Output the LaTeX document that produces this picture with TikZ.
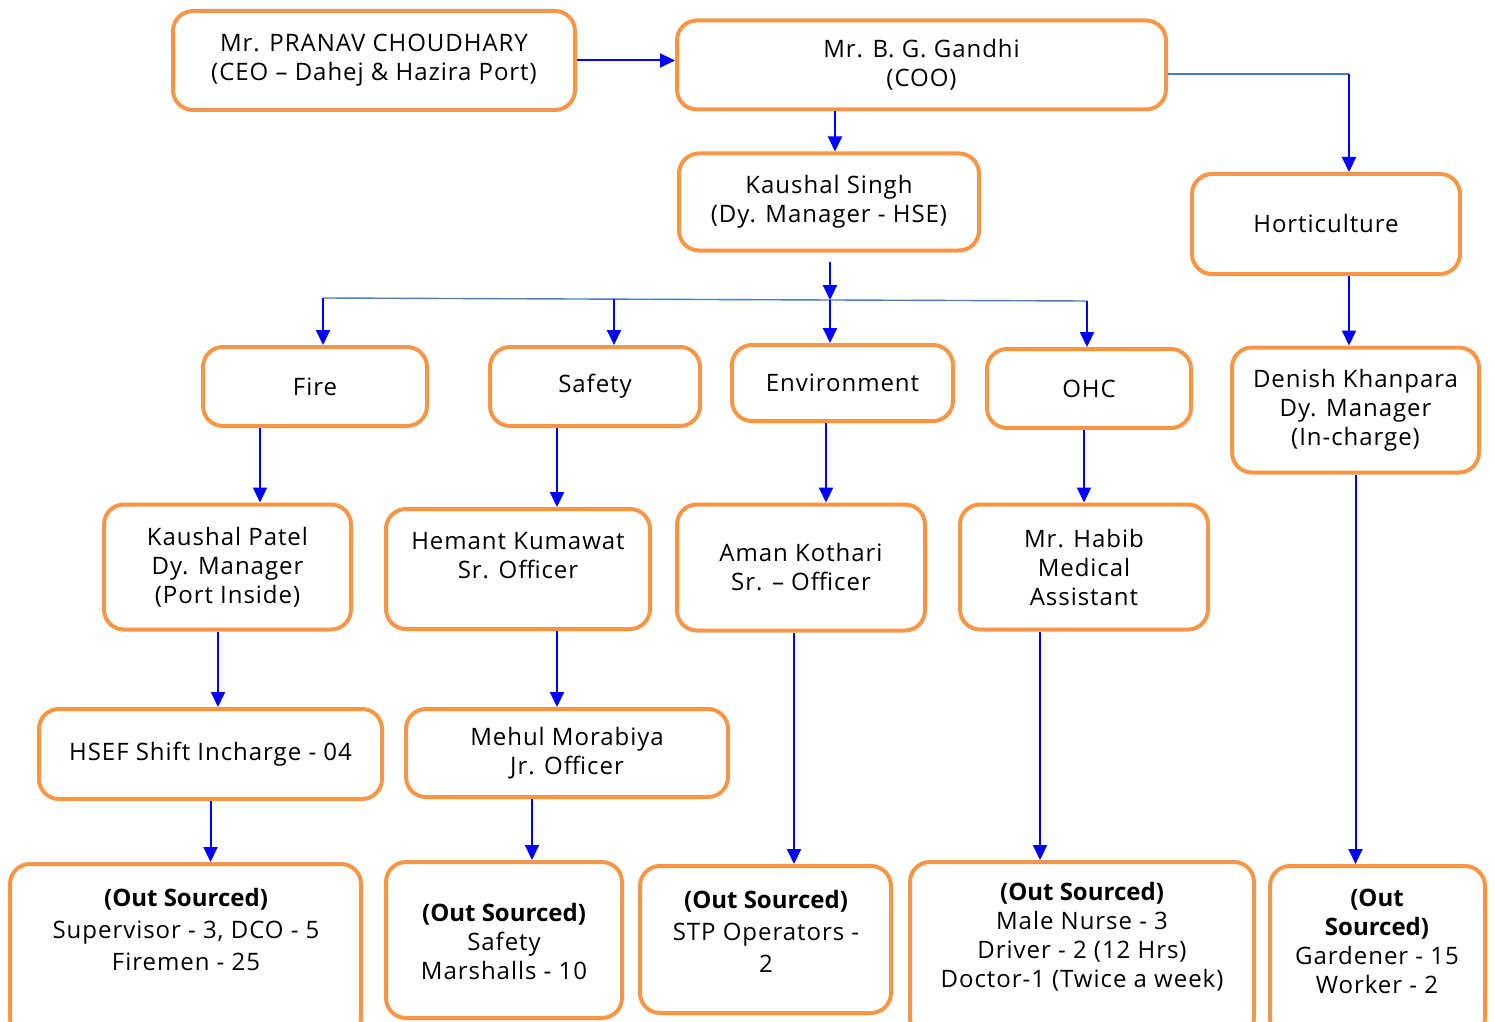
\documentclass[tikz,border=0pt]{standalone}
\usepackage{fontspec}
\setmainfont{Open Sans}[LetterSpace=4,BoldFeatures={LetterSpace=0}]
\usetikzlibrary{arrows.meta}
\definecolor{boxorange}{HTML}{F79646}
\definecolor{arrblue}{HTML}{0000FF}
\definecolor{busblue}{HTML}{4A7EBB}
\begin{document}
\begin{tikzpicture}[x=0.5pt,y=-0.5pt,
  box/.style={draw=boxorange,line width=2pt,rounded corners=10pt,align=center,inner sep=0pt,
    font=\fontsize{12}{14.5}\selectfont},
  txt/.style={align=center,inner sep=0pt,font=\fontsize{12}{14.5}\selectfont},
  arr/.style={draw=arrblue,line width=1pt,-{Triangle[length=7.5pt,width=7pt]}},
  bus/.style={draw=busblue,line width=0.7pt}]
\clip (0,0) rectangle (1495,1022);

\node[box,minimum width=201pt,minimum height=49.5pt](ceo) at (374,60.5) {Mr. PRANAV CHOUDHARY\\(CEO -- Dahej \& Hazira Port)};
\node[box,minimum width=244.5pt,minimum height=44.5pt](coo) at (921.5,65) {Mr. B. G. Gandhi\\(COO)};
\node[box,minimum width=150pt,minimum height=48.5pt](ks) at (829,202) {Kaushal Singh\\(Dy. Manager - HSE)};
\node[box,minimum width=134pt,minimum height=50pt](hort) at (1326,224) {Horticulture};

\node[box,minimum width=112pt,minimum height=39.5pt](fire) at (315,386.5) {Fire};
\node[box,minimum width=105pt,minimum height=39.5pt](safety) at (595,386.5) {Safety};
\node[box,minimum width=110.5pt,minimum height=38pt](env) at (842.5,383) {Environment};
\node[box,minimum width=102pt,minimum height=39.5pt](ohc) at (1089,388.5) {OHC};
\node[box,minimum width=123.5pt,minimum height=62.5pt](den) at (1355.5,410) {Denish Khanpara\\Dy. Manager\\(In-charge)};

\node[box,minimum width=123.5pt,minimum height=62.5pt](kp) at (227.5,567) {Kaushal Patel\\Dy. Manager\\(Port Inside)};
\node[box,minimum width=132pt,minimum height=60pt](hk) at (518,569) {};
\node[txt](hkt) at (518,556) {Hemant Kumawat\\Sr. Officer};
\node[box,minimum width=124pt,minimum height=63pt](ak) at (801,567.5) {Aman Kothari\\Sr. -- Officer};
\node[box,minimum width=124pt,minimum height=62.5pt](hab) at (1084,567) {Mr. Habib\\Medical\\Assistant};

\node[box,minimum width=171.5pt,minimum height=45pt](hsef) at (210.5,754) {HSEF Shift Incharge - 04};
\node[box,minimum width=161pt,minimum height=44pt](meh) at (567,753) {Mehul Morabiya\\Jr. Officer};

% out sourced boxes
\node[box,minimum width=175.5pt,minimum height=87pt](b1) at (185.5,951) {};
\node[box,minimum width=118pt,minimum height=78pt](b2) at (504,940) {};
\node[box,minimum width=125.5pt,minimum height=73.5pt](b3) at (765.5,939.5) {};
\node[box,minimum width=172pt,minimum height=88pt](b4) at (1082,950) {};
\node[box,minimum width=107.5pt,minimum height=86pt](b5) at (1377.5,952) {};
\node[txt,font=\fontsize{12}{16}\selectfont](b1t) at (186,929) {\textbf{(Out Sourced)}\\Supervisor - 3, DCO - 5\\Firemen - 25};
\node[txt](b2t) at (504,941) {\textbf{(Out Sourced)}\\Safety\\Marshalls - 10};
\node[txt,font=\fontsize{12}{16}\selectfont](b3t) at (766,931) {\textbf{(Out Sourced)}\\STP Operators -\\2};
\node[txt](b4t) at (1082,937) {\textbf{(Out Sourced)}\\Male Nurse - 3\\Driver - 2 (12 Hrs)\\Doctor-1 (Twice a week)};
\node[txt](b5t) at (1377,941) {\textbf{(Out}\\\textbf{Sourced)}\\Gardener - 15\\Worker - 2};

\coordinate (hTap) at (1349,74);
\coordinate (ksOut) at (830,262);
\coordinate (tFire) at (323,298);
\coordinate (tSafe) at (614,299);
\coordinate (tEnv) at (830,300);
\coordinate (tOhc) at (1087,301);

\draw[arr] (ceo.east) -- (ceo.east -| coo.west);
\draw[arr] ([xshift=3pt]ks.north |- coo.south) -- ([xshift=3pt]ks.north);
\draw[bus] (coo.east |- hTap) -- (hTap);
\draw[arr] (hTap) -- (hTap |- hort.north);
\draw[arr] (hTap |- hort.south) -- (hTap |- den.north);

\draw[bus] (tFire) -- (tOhc);
\draw[arr] (ksOut) -- (tEnv);
\draw[arr] (tFire) -- (tFire |- fire.north);
\draw[arr] (tSafe) -- (tSafe |- safety.north);
\draw[arr] (tEnv) -- (tEnv |- env.north);
\draw[arr] (tOhc) -- (tOhc |- ohc.north);

\draw[arr] ([xshift=16.25pt]kp.north |- fire.south) -- ([xshift=16.25pt]kp.north);
\draw[arr] ([xshift=19.5pt]hk.north |- safety.south) -- ([xshift=19.5pt]hk.north);
\draw[arr] ([xshift=12.5pt]ak.north |- env.south) -- ([xshift=12.5pt]ak.north);
\draw[arr] (hab.north |- ohc.south) -- (hab.north);

\draw[arr] ([xshift=-4.75pt]kp.south) -- ([xshift=-4.75pt]kp.south |- hsef.north);
\draw[arr] ([xshift=19.5pt]hk.south) -- ([xshift=19.5pt]hk.south |- meh.north);
\draw[arr] (hsef.south) -- (hsef.south |- b1.north);
\draw[arr] ([xshift=-17.5pt]meh.south) -- ([xshift=-17.5pt]meh.south |- b2.north);
\draw[arr] ([xshift=-3.5pt]ak.south) -- ([xshift=-3.5pt]ak.south |- b3.north);
\draw[arr] ([xshift=-22pt]hab.south) -- ([xshift=-22pt]hab.south |- b4.north);
\draw[arr] (den.south) -- (den.south |- b5.north);
\end{tikzpicture}
\end{document}
